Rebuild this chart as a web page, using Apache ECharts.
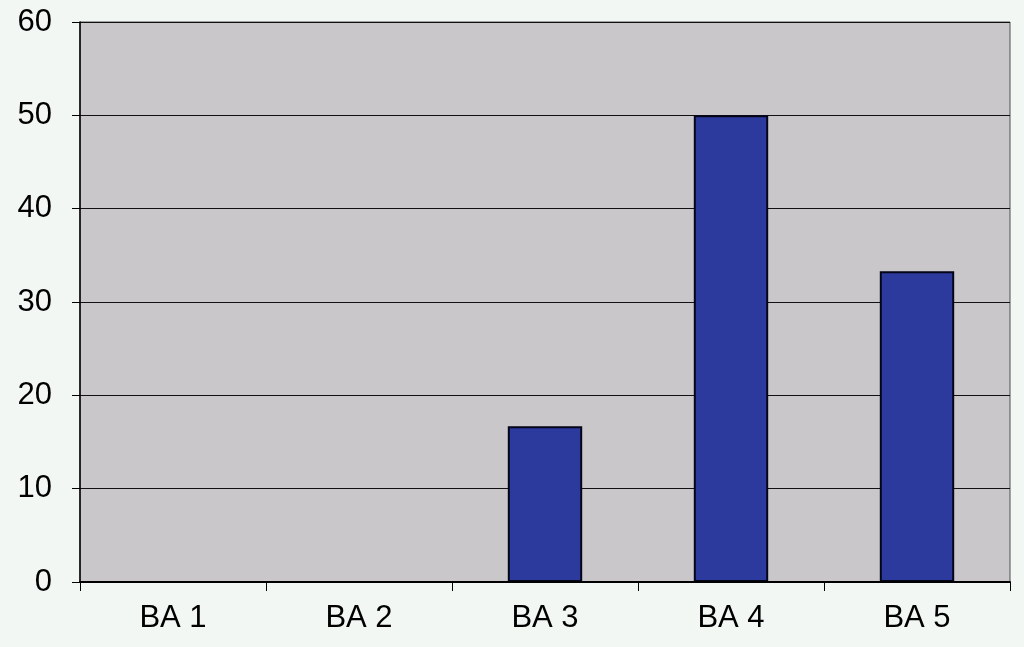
<!DOCTYPE html>
<html>
<head>
<meta charset="utf-8">
<script src="https://cdn.jsdelivr.net/npm/echarts@6/dist/echarts.min.js"></script>
<style>
html, body { margin: 0; padding: 0; background: #f3f7f3; }
#chart { width: 1024px; height: 647px; }
</style>
</head>
<body>
<div id="chart"></div>
<script>
// 类别与数值
var categories = ['BA 1', 'BA 2', 'BA 3', 'BA 4', 'BA 5'];
var values = [0, 0, 16.7, 50, 33.3];

var myChart = echarts.init(document.getElementById('chart'));
var option = {
	backgroundColor: '#f3f7f3',
	grid: {
		left: 80,
		right: 14,
		top: 22,
		bottom: 65,
		show: true,
		backgroundColor: '#c9c7ca',
		borderColor: '#4a4f50',
		borderWidth: 1
	},
	xAxis: {
		type: 'category',
		data: categories,
		z: 5, // 轴线压在柱子上面
		axisLine: { lineStyle: { color: '#000', width: 2 } },
		axisTick: { show: true, alignWithLabel: false, length: 9, lineStyle: { color: '#000' } },
		axisLabel: {
			color: '#000',
			fontSize: 31,
			fontFamily: 'Liberation Sans',
			margin: 21
		}
	},
	yAxis: {
		type: 'value',
		min: 0,
		max: 60,
		interval: 10,
		axisLine: { show: true, lineStyle: { color: '#000', width: 1.5 } },
		axisTick: { show: true, length: 8, lineStyle: { color: '#000' } },
		axisLabel: {
			color: '#000',
			fontSize: 31,
			fontFamily: 'Liberation Sans',
			margin: 28
		},
		splitLine: { lineStyle: { color: '#111', width: 1.2 } }
	},
	series: [{
		type: 'bar',
		data: values,
		barCategoryGap: '60%',
		itemStyle: {
			color: '#2c3a9e',
			borderColor: '#05051a',
			borderWidth: 2
		}
	}]
};
myChart.setOption(option);
</script>
</body>
</html>
